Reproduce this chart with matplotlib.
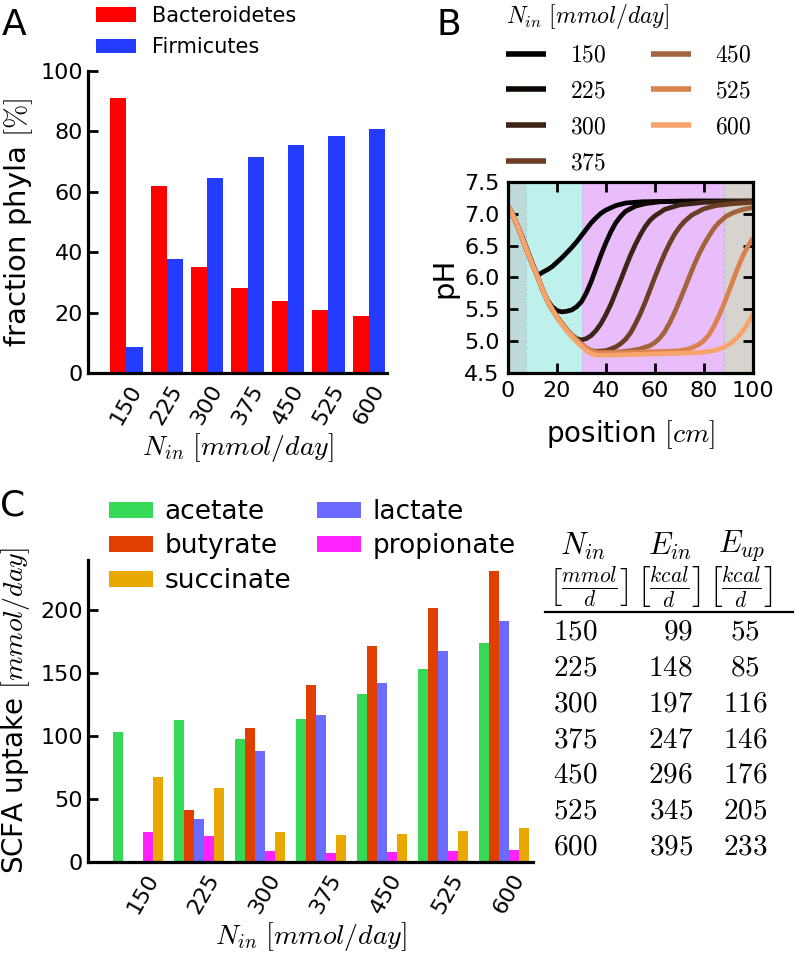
import numpy as np
import matplotlib
matplotlib.use("Agg")
import matplotlib.pyplot as plt

plt.rcParams['mathtext.fontset'] = 'cm'
plt.rcParams['font.family'] = 'DejaVu Sans'

# ---- data ----
n_in = ['150', '225', '300', '375', '450', '525', '600']

bacteroidetes = [91, 62, 35, 28, 24, 21, 19]
firmicutes = [8.6, 37.7, 64.5, 71.5, 75.5, 78.5, 80.7]

acetate = [103, 112.5, 97.6, 113.8, 133.8, 153.7, 174.2]
butyrate = [0, 41, 106.4, 141, 172, 202, 231.3]
lactate = [0, 33.8, 88, 116.5, 142.6, 167.3, 191.5]
propionate = [23.9, 20.5, 8.5, 7.4, 8, 8.8, 9.5]
succinate = [67.8, 58.5, 23.7, 21.3, 22.6, 24.5, 26.8]

e_in = [99, 148, 197, 247, 296, 345, 395]
e_up = [55, 85, 116, 146, 176, 205, 233]

# pH profiles (position in cm, pH)
ph_150_x = [0, 2, 4, 6, 8, 10, 12, 14, 16, 18, 20, 22, 24, 26, 28, 30, 32, 34, 36, 38, 40, 44, 48, 55, 70, 100]
ph_150_y = [7.12, 6.98, 6.8, 6.62, 6.42, 6.22, 6.03, 6.08, 6.12, 6.17, 6.24, 6.31, 6.39, 6.47, 6.56, 6.66, 6.76, 6.86, 6.94, 7.01, 7.06, 7.13, 7.17, 7.19, 7.2, 7.2]
ph_225_x = [0, 2, 4, 6, 8, 10, 12, 14, 16, 18, 20, 22, 24, 26, 28, 30, 32, 34, 36, 38, 40, 42, 44, 46, 48, 52, 56, 62, 75, 100]
ph_225_y = [7.12, 6.98, 6.8, 6.6, 6.4, 6.2, 6.02, 5.82, 5.65, 5.54, 5.48, 5.46, 5.47, 5.49, 5.54, 5.62, 5.76, 5.94, 6.15, 6.36, 6.55, 6.72, 6.86, 6.96, 7.04, 7.12, 7.16, 7.19, 7.2, 7.2]
ph_300_x = [0, 2, 4, 6, 8, 10, 12, 14, 16, 18, 20, 22, 24, 26, 28, 30, 32, 34, 36, 38, 40, 42, 44, 46, 48, 50, 52, 54, 56, 58, 60, 64, 70, 80, 100]
ph_300_y = [7.12, 6.98, 6.8, 6.6, 6.4, 6.2, 6.02, 5.82, 5.64, 5.5, 5.38, 5.28, 5.18, 5.1, 5.04, 5.02, 5.04, 5.09, 5.17, 5.28, 5.42, 5.58, 5.77, 5.96, 6.16, 6.35, 6.52, 6.67, 6.8, 6.9, 6.97, 7.07, 7.14, 7.18, 7.2]
ph_375_x = [0, 2, 4, 6, 8, 10, 12, 14, 16, 18, 20, 22, 24, 26, 28, 30, 32, 34, 36, 40, 44, 46, 48, 50, 52, 54, 56, 58, 60, 62, 64, 66, 68, 70, 72, 75, 80, 85, 92, 100]
ph_375_y = [7.12, 6.98, 6.8, 6.6, 6.4, 6.2, 6.02, 5.82, 5.64, 5.5, 5.38, 5.28, 5.18, 5.1, 5.02, 4.95, 4.89, 4.85, 4.84, 4.85, 4.91, 4.96, 5.03, 5.13, 5.27, 5.43, 5.61, 5.81, 6.01, 6.2, 6.38, 6.54, 6.68, 6.79, 6.88, 6.98, 7.08, 7.13, 7.16, 7.18]
ph_450_x = [0, 2, 4, 6, 8, 10, 12, 14, 16, 18, 20, 22, 24, 26, 28, 30, 32, 34, 36, 40, 45, 50, 54, 58, 60, 62, 64, 66, 68, 70, 72, 74, 76, 78, 80, 82, 84, 86, 89, 92, 96, 100]
ph_450_y = [7.12, 6.98, 6.8, 6.6, 6.4, 6.2, 6.02, 5.82, 5.64, 5.5, 5.38, 5.28, 5.18, 5.1, 5.02, 4.95, 4.89, 4.85, 4.83, 4.82, 4.83, 4.85, 4.88, 4.93, 4.98, 5.05, 5.15, 5.29, 5.45, 5.63, 5.82, 6.01, 6.2, 6.37, 6.52, 6.65, 6.77, 6.86, 6.96, 7.02, 7.07, 7.1]
ph_525_x = [0, 2, 4, 6, 8, 10, 12, 14, 16, 18, 20, 22, 24, 26, 28, 30, 32, 34, 36, 45, 55, 65, 70, 74, 78, 80, 82, 84, 86, 88, 90, 92, 94, 96, 98, 100]
ph_525_y = [7.12, 6.98, 6.8, 6.6, 6.4, 6.2, 6.02, 5.82, 5.64, 5.5, 5.38, 5.28, 5.18, 5.1, 5.02, 4.95, 4.89, 4.85, 4.82, 4.82, 4.83, 4.84, 4.85, 4.88, 4.95, 5.01, 5.1, 5.23, 5.39, 5.57, 5.77, 5.97, 6.17, 6.35, 6.5, 6.62]
ph_600_x = [0, 2, 4, 6, 8, 10, 12, 14, 16, 18, 20, 22, 24, 26, 28, 30, 32, 34, 36, 40, 50, 60, 70, 78, 84, 88, 91, 94, 97, 100]
ph_600_y = [7.12, 6.98, 6.8, 6.6, 6.4, 6.2, 6.02, 5.82, 5.64, 5.5, 5.37, 5.26, 5.16, 5.07, 4.99, 4.92, 4.85, 4.8, 4.78, 4.78, 4.79, 4.8, 4.81, 4.82, 4.85, 4.9, 4.97, 5.07, 5.22, 5.43]

ph_x = [ph_150_x, ph_225_x, ph_300_x, ph_375_x, ph_450_x, ph_525_x, ph_600_x]
ph_y = [ph_150_y, ph_225_y, ph_300_y, ph_375_y, ph_450_y, ph_525_y, ph_600_y]
ph_colors = ['#000000', '#0b0603', '#3e2416', '#6c3f25', '#a3643d', '#d98250', '#f7a46c']

# gut regions along the colon
regions = [(0, 7.4, '#bddad8'), (7.4, 30, '#bff1ec'), (30, 88, '#e9bdf9'), (88, 100, '#d7d3cf')]

W, H = 796, 955
fig = plt.figure(figsize=(W / 100, H / 100), dpi=100)

def box(l, t, r, b):
    return [l / W, 1 - b / H, (r - l) / W, (b - t) / H]

def style(ax):
    for s in ['top', 'right']:
        ax.spines[s].set_visible(False)
    for s in ['left', 'bottom']:
        ax.spines[s].set_linewidth(2.3)
    ax.tick_params(axis='y', direction='in', length=7, width=2, labelsize=16, right=False)
    ax.tick_params(axis='x', length=0, labelsize=16, pad=6)

# ---- A ----
axA = fig.add_axes(box(88, 71, 387, 373))
x = np.arange(len(n_in))
bA = axA.bar(x - 0.2, bacteroidetes, 0.4, color='#fe0000', label='Bacteroidetes')
fA = axA.bar(x + 0.2, firmicutes, 0.4, color='#233cff', label='Firmicutes')
axA.set_xlim(-0.95, 6.45)
axA.set_ylim(0, 100)
axA.set_xticks(x)
axA.set_xticklabels(n_in, rotation=60, ha='center')
style(axA)
axA.set_ylabel(r'fraction phyla $[\%]$', fontsize=21, labelpad=4)
axA.set_xlabel(r'$N_{in}\ [mmol/day]$', fontsize=20, labelpad=2)
fig.legend(handles=[bA, fA], loc='upper left', bbox_to_anchor=(96 / W, 1 - 6 / H),
           frameon=False, fontsize=15, handlelength=1.9, handleheight=0.7,
           handletextpad=0.8, labelspacing=0.55, borderpad=0, borderaxespad=0)

# ---- B ----
axB = fig.add_axes(box(508, 182, 753, 373))
for lo, hi, c in regions:
    axB.axvspan(lo, hi, color=c, lw=0, zorder=0)
axB.axvline(7.4, color='#b0cfcf', ls='--', lw=0.8, zorder=1)
axB.axvline(30, color='#c6c4ea', ls='--', lw=0.8, zorder=1)
axB.axvline(88, color='#c2b6d6', ls='--', lw=0.8, zorder=1)
lines = []
for xs, ys, c, lab in zip(ph_x, ph_y, ph_colors, n_in):
    ln, = axB.plot(xs, ys, color=c, lw=3.4, label='$' + lab + '$', solid_capstyle='butt')
    lines.append(ln)
axB.set_xlim(0, 100)
axB.set_ylim(4.5, 7.5)
axB.set_xticks([0, 20, 40, 60, 80, 100])
axB.set_yticks([4.5, 5.0, 5.5, 6.0, 6.5, 7.0, 7.5])
axB.set_yticklabels(['4.5', '5.0', '5.5', '6.0', '6.5', '7.0', '7.5'])
for s in axB.spines.values():
    s.set_linewidth(2.3)
axB.tick_params(direction='in', length=7, width=2, labelsize=16, top=True, right=True, pad=6)
axB.set_ylabel('pH', fontsize=21, labelpad=4)
axB.set_xlabel(r'position $[cm]$', fontsize=20, labelpad=12)
leg = fig.legend(handles=lines, loc='upper left', bbox_to_anchor=(506 / W, 1 - 2 / H),
                 frameon=False, ncol=2, fontsize=17, handlelength=1.7, handletextpad=1.0,
                 columnspacing=1.9, labelspacing=0.5, borderpad=0, borderaxespad=0,
                 title=r'$N_{in}\ [mmol/day]$', title_fontsize=17, alignment='left')
for h in leg.legend_handles:
    h.set_linewidth(4)

# ---- C ----
axC = fig.add_axes(box(88, 560, 533, 862))
w = 0.165
series = [(acetate, '#36d957', 'acetate'), (butyrate, '#e03f00', 'butyrate'),
          (lactate, '#6b6bff', 'lactate'), (propionate, '#ff22ff', 'propionate'),
          (succinate, '#e8a800', 'succinate')]
bars = {}
for j, (vals, c, lab) in enumerate(series):
    bars[lab] = axC.bar(x + (j - 2) * w, vals, w, color=c, label=lab)
axC.set_xlim(-0.82, 6.48)
axC.set_ylim(0, 240)
axC.set_yticks([0, 50, 100, 150, 200])
axC.set_xticks(x + 0.08)
axC.set_xticklabels(n_in, rotation=60, ha='center')
style(axC)
axC.set_ylabel(r'SCFA uptake $[mmol/day]$', fontsize=20, labelpad=6)
axC.set_xlabel(r'$N_{in}\ [mmol/day]$', fontsize=20, labelpad=2)
order = ['acetate', 'butyrate', 'succinate', 'lactate', 'propionate']
fig.legend(handles=[bars[k] for k in order], loc='upper left', bbox_to_anchor=(109 / W, 1 - 499 / H),
           frameon=False, ncol=2, fontsize=19, handlelength=1.65, handleheight=0.55,
           handletextpad=0.45, columnspacing=1.0, labelspacing=0.32, borderpad=0, borderaxespad=0)

# ---- table ----
def fx(px):
    return px / W

def fy(py):
    return 1 - py / H

fig.text(fx(583), fy(546), r'$N_{in}$', fontsize=22, ha='center', va='center')
fig.text(fx(670), fy(546), r'$E_{in}$', fontsize=22, ha='center', va='center')
fig.text(fx(742), fy(546), r'$E_{up}$', fontsize=22, ha='center', va='center')
fig.text(fx(588), fy(587), r'$\left[\frac{mmol}{d}\right]$', fontsize=22, ha='center', va='center')
fig.text(fx(668), fy(587), r'$\left[\frac{kcal}{d}\right]$', fontsize=22, ha='center', va='center')
fig.text(fx(740), fy(587), r'$\left[\frac{kcal}{d}\right]$', fontsize=22, ha='center', va='center')
fig.add_artist(plt.Line2D([fx(545), fx(793)], [fy(612), fy(612)], color='black', lw=1.6))
for i in range(len(n_in)):
    yy = fy(632 + i * 35.7)
    fig.text(fx(553), yy, '$' + n_in[i] + '$', fontsize=21, ha='left', va='center')
    fig.text(fx(693), yy, '$' + str(e_in[i]) + '$', fontsize=21, ha='right', va='center')
    fig.text(fx(745), yy, '$' + str(e_up[i]) + '$', fontsize=21, ha='center', va='center')

# panel letters
fig.text(fx(2), fy(25), 'A', fontsize=26, va='center')
fig.text(fx(436), fy(25), 'B', fontsize=26, va='center')
fig.text(fx(0), fy(505), 'C', fontsize=26, va='center')

fig.savefig('out.png', dpi=100)
